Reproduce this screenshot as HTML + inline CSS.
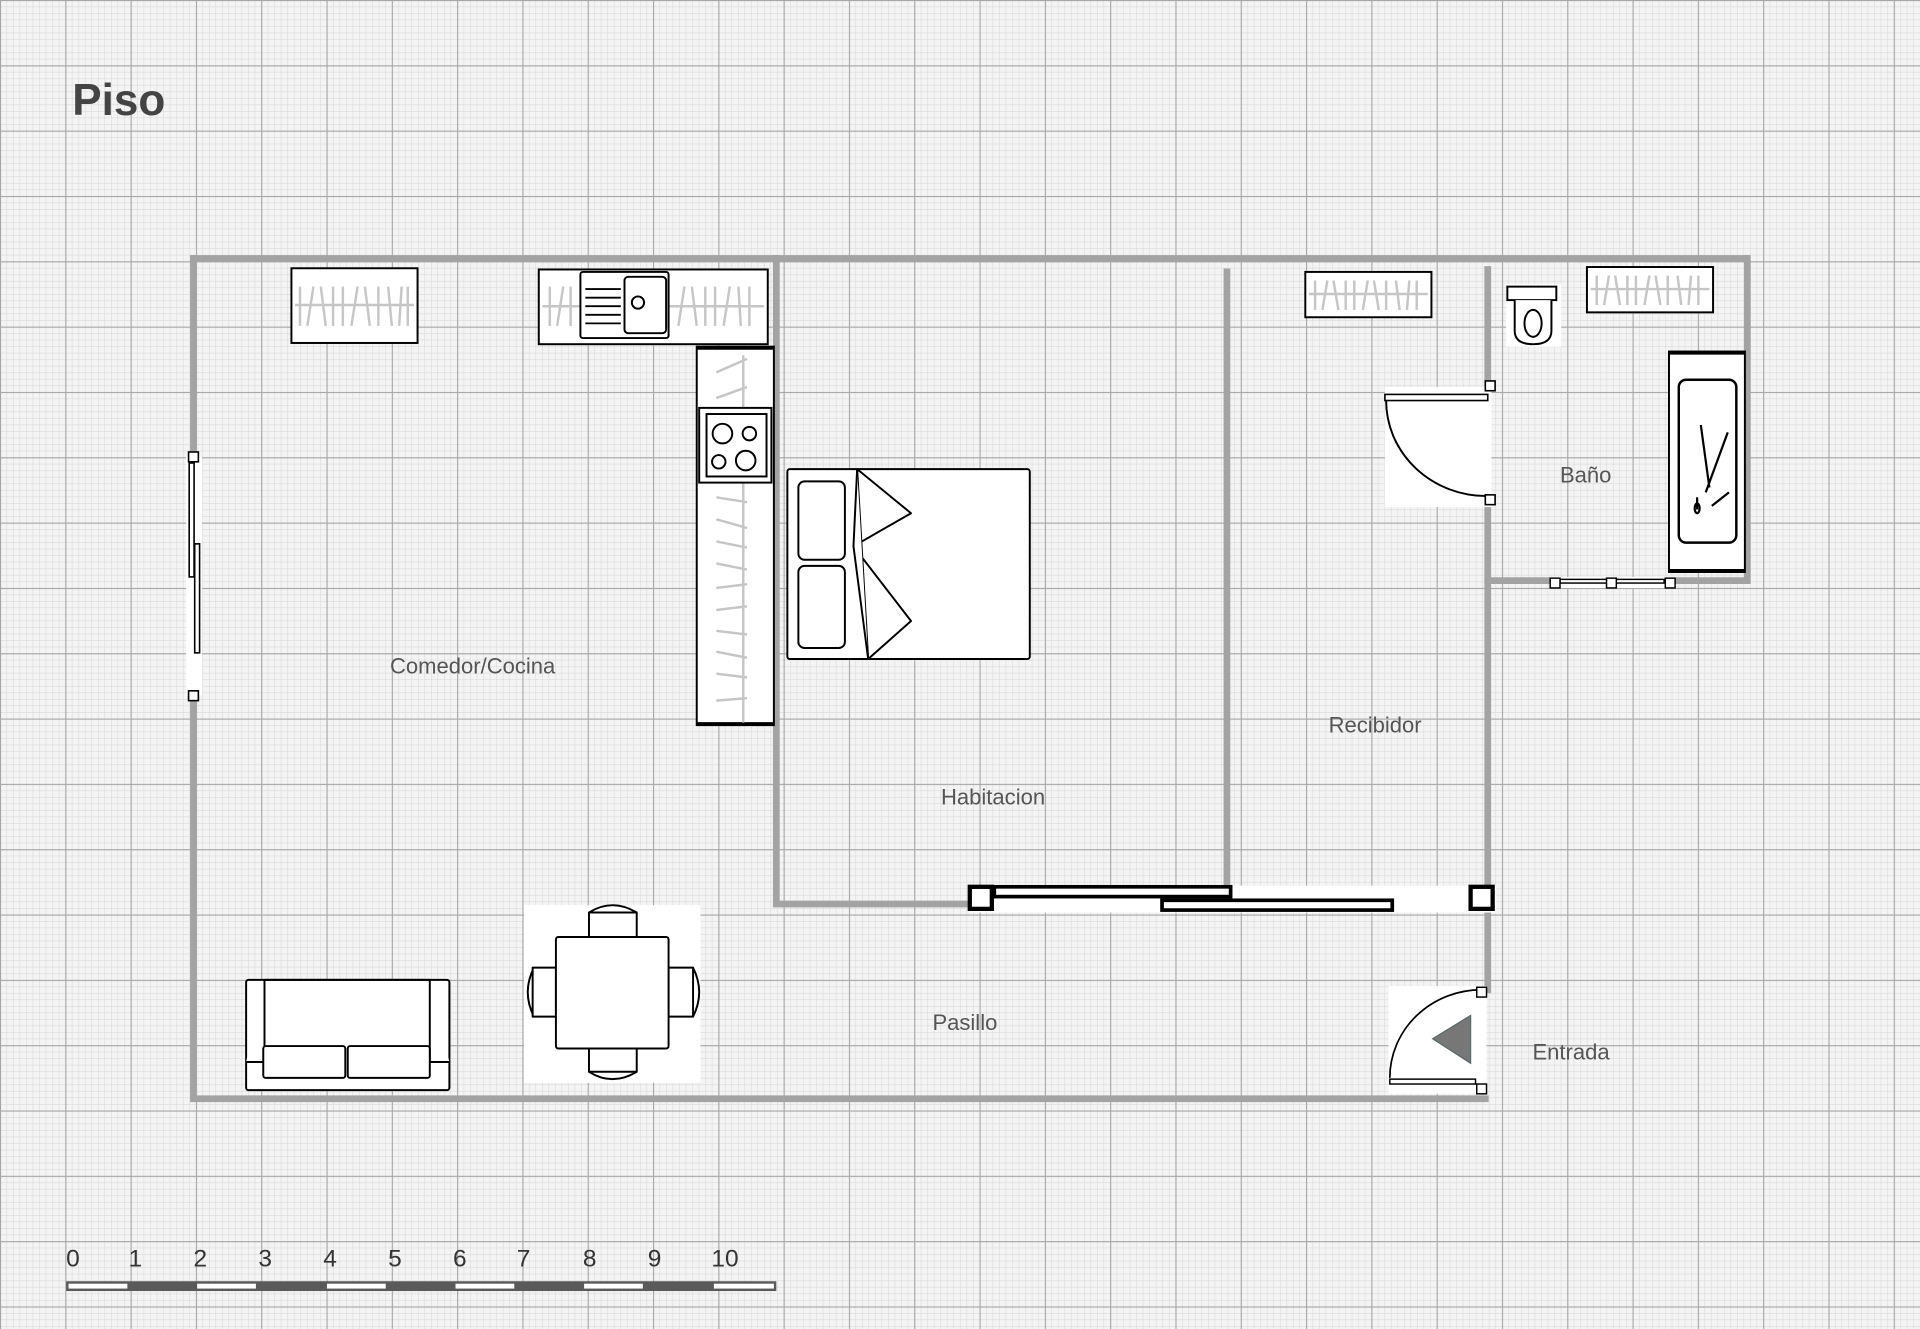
<!DOCTYPE html>
<html><head><meta charset="utf-8"><style>
html,body{margin:0;padding:0;background:#f0f0f0;}
svg{display:block;}
text{font-family:"Liberation Sans",sans-serif;}
</style></head><body>
<svg width="1920" height="1329" viewBox="0 0 1568 1085" preserveAspectRatio="none" xmlns="http://www.w3.org/2000/svg">
<defs>
<pattern id="minor" width="5.333" height="5.333" patternUnits="userSpaceOnUse">
<rect width="5.333" height="5.333" fill="#f4f4f4"/>
<path d="M0 0H5.333M0 0V5.333" stroke="#d8d8d8" stroke-width="0.9" fill="none"/>
</pattern>
<pattern id="major" width="53.33" height="53.33" patternUnits="userSpaceOnUse">
<path d="M0 0H53.33M0 0V53.33" stroke="#a6a6a6" stroke-width="1.8" fill="none"/>
</pattern>
</defs>
<rect width="1568" height="1085" fill="url(#minor)"/>
<rect width="1568" height="1085" fill="url(#major)"/>

<text x="59" y="94" font-size="36" font-weight="bold" fill="#444">Piso</text>

<!-- walls -->
<g stroke="#a3a3a3" stroke-width="5.5" fill="none" stroke-linecap="square">
<path d="M158 211H1425"/>
<path d="M158 211V373M158 568V897H1213"/>
<path d="M634 211V738H790"/>
<path d="M1002 222V725"/>
<path d="M1215 220V315M1215 408V808"/>
<path d="M1427 211V473M1215 474H1427"/>
</g>

<!-- left window -->
<rect x="152" y="373" width="13" height="195" fill="#fff"/>
<rect x="154.5" y="378" width="4" height="93" fill="#fff" stroke="#000" stroke-width="1.3"/>
<rect x="159" y="444" width="4" height="89" fill="#fff" stroke="#000" stroke-width="1.3"/>
<rect x="154" y="369" width="8" height="8" fill="#fff" stroke="#000" stroke-width="1.3"/>
<rect x="154" y="564" width="8" height="8" fill="#fff" stroke="#000" stroke-width="1.3"/>

<!-- bath window -->
<g stroke="#000" stroke-width="1.2" fill="#fff">
<rect x="1266" y="471" width="102" height="9" stroke="none"/>
<rect x="1274" y="473" width="40" height="3"/>
<rect x="1319" y="473" width="40" height="3"/>
<rect x="1266" y="472" width="8" height="8"/>
<rect x="1312" y="472" width="8" height="8"/>
<rect x="1360" y="472" width="8" height="8"/>
</g>

<!-- closets -->
<g stroke="#000" stroke-width="1.6" fill="#fff">
<rect x="238" y="219" width="103" height="61"/>
<rect x="1066" y="222" width="103" height="37"/>
<rect x="1296" y="218" width="103" height="37"/>
<rect x="440" y="220" width="187" height="61"/>
</g>
<g stroke="#c6c6c6" stroke-width="2" fill="none">
<path d="M241 249H338M245 234V266M251 266L256 234M262 234L266 266M272 266V234M280 234V266M287 266L292 234M298 234L302 266M309 266V234M317 234L320 266M326 266L328 234M333 234V266"/>
<path d="M1069 240H1166M1074 229V253M1080 253L1084 229M1089 229L1093 253M1099 253V229M1106 229V253M1113 253L1117 229M1122 229L1126 253M1132 253V229M1140 229L1143 253M1149 253L1151 229M1157 229V253"/>
<path d="M1299 236H1396M1304 225V249M1310 249L1314 225M1319 225L1323 249M1329 249V225M1336 225V249M1343 249L1347 225M1352 225L1356 249M1362 249V225M1370 225L1373 249M1379 249L1381 225M1387 225V249"/>
<path d="M443 250H624M449 234V266M455 266L460 234M466 234V266M554 266L559 234M565 234L569 266M576 266V234M584 234V266M591 266L596 234M603 234L605 266M612 266V234"/>
</g>
<!-- sink -->
<g stroke="#000" stroke-width="1.6" fill="#fff">
<rect x="474" y="222" width="72" height="54" rx="2"/>
<rect x="510" y="226" width="34" height="46" rx="3"/>
<circle cx="521" cy="247" r="5"/>
</g>
<path d="M478 236H507M478 243H507M478 250H507M478 257H507M478 264H507" stroke="#000" stroke-width="1.5"/>

<!-- vertical counter -->
<rect x="569" y="283" width="63" height="309" fill="#fff" stroke="#000" stroke-width="1.6"/>
<path d="M569 284H632M569 591H632" stroke="#000" stroke-width="3"/>
<g stroke="#c6c6c6" stroke-width="2" fill="none">
<path d="M607 290V590"/>
<path d="M585 304L610 293M585 325L610 316M585 406L610 410M585 424L610 431M585 442L610 447M585 460L610 465M585 480L610 477M585 498L610 495M585 515L610 518M585 532L610 537M585 550L610 553M585 572L610 570"/>
</g>
<rect x="571" y="333" width="59" height="61" fill="#fff" stroke="#000" stroke-width="1.6"/>
<rect x="577" y="338" width="49" height="51" fill="#fff" stroke="#000" stroke-width="1.6"/>
<g stroke="#000" stroke-width="1.6" fill="none">
<circle cx="590" cy="354" r="8"/><circle cx="612" cy="354" r="5.5"/>
<circle cx="587" cy="377" r="5.5"/><circle cx="609" cy="376" r="8"/>
</g>

<!-- bed -->
<g stroke="#000" stroke-width="1.6" fill="#fff" stroke-linejoin="round">
<rect x="643" y="383" width="198" height="155" rx="2"/>
<rect x="652" y="393" width="38" height="64" rx="5"/>
<rect x="652" y="462" width="38" height="67" rx="5"/>
<path d="M700 383L744 419L697 446L744 507L709 538Z"/>
<path d="M700 383L697 446L709 538"/>
</g>

<!-- toilet -->
<rect x="1230" y="232" width="45" height="51" fill="#fff"/>
<g stroke="#000" stroke-width="1.6" fill="#fff">
<rect x="1231" y="234" width="40" height="11"/>
<path d="M1237 245V270Q1237 281 1252 281Q1267 281 1267 270V245"/>
<ellipse cx="1252" cy="264" rx="7" ry="11"/>
</g>

<!-- bathtub -->
<rect x="1363" y="287" width="62" height="180" fill="#fff" stroke="#000" stroke-width="1.6"/>
<path d="M1363 288H1425M1363 466H1425" stroke="#000" stroke-width="3"/>
<rect x="1371" y="310" width="47" height="133" rx="6" fill="#fff" stroke="#000" stroke-width="2"/>
<g stroke="#000" stroke-width="1.8" fill="none">
<path d="M1396 398L1389 347M1393 402L1411 353M1398 413L1412 402M1386 416V406"/>
<ellipse cx="1386" cy="415" rx="2" ry="4"/>
</g>

<!-- bath door -->
<rect x="1131" y="316" width="87" height="98" fill="#fff"/>
<rect x="1131" y="322" width="84" height="5" fill="#fff" stroke="#000" stroke-width="1.3"/>
<path d="M1132 327A82 78 0 0 0 1214 405" fill="none" stroke="#000" stroke-width="1.6"/>
<rect x="1213" y="311" width="8" height="8" fill="#fff" stroke="#000" stroke-width="1.3"/>
<rect x="1213" y="404" width="8" height="8" fill="#fff" stroke="#000" stroke-width="1.3"/>

<!-- sliding door -->
<rect x="792" y="723" width="430" height="22" fill="#fff"/>
<g stroke="#000" fill="#fff">
<rect x="812" y="724" width="193" height="8" stroke-width="3"/>
<rect x="949" y="735" width="188" height="8" stroke-width="3"/>
<rect x="792" y="724" width="18" height="18" stroke-width="3.5"/>
<rect x="1201" y="724" width="18" height="18" stroke-width="3.5"/>
</g>

<!-- entrance door -->
<rect x="1134" y="805" width="80" height="88" fill="#fff"/>
<rect x="1135" y="881" width="70" height="4" fill="#fff" stroke="#000" stroke-width="1.2"/>
<path d="M1135 880A75 72 0 0 1 1210 808" fill="none" stroke="#000" stroke-width="1.4"/>
<path d="M1201 829L1201 868L1170 848Z" fill="#777" stroke="#5a6a6a" stroke-width="1"/>
<rect x="1206" y="806" width="8" height="8" fill="#fff" stroke="#000" stroke-width="1.2"/>
<rect x="1206" y="885" width="8" height="8" fill="#fff" stroke="#000" stroke-width="1.2"/>

<!-- sofa -->
<g stroke="#000" stroke-width="1.6" fill="#fff" stroke-linejoin="round">
<rect x="201" y="800" width="166" height="90" rx="2"/>
<path d="M201 867H216V800M367 867H351V800M216 800H351"/>
<rect x="215" y="854" width="67" height="26" rx="2"/>
<rect x="284" y="854" width="67" height="26" rx="2"/>
</g>

<!-- table -->
<rect x="428" y="739" width="144" height="145" fill="#fff"/>
<g stroke="#000" stroke-width="1.6" fill="#fff" stroke-linejoin="round">
<path d="M481 745Q500 733 520 745"/><rect x="481" y="745" width="39" height="20"/>
<path d="M481 875Q500 887 520 875"/><rect x="481" y="856" width="39" height="19"/>
<path d="M436 790Q426 810 436 830"/><rect x="435" y="790" width="19" height="40"/>
<path d="M566 790Q576 810 566 830"/><rect x="546" y="790" width="20" height="40"/>
<rect x="454" y="765" width="92" height="91" rx="2"/>
</g>

<!-- labels -->
<g font-size="18" fill="#555" text-anchor="middle">
<text x="386" y="550">Comedor/Cocina</text>
<text x="811" y="657">Habitacion</text>
<text x="1123" y="598">Recibidor</text>
<text x="1295" y="394">Baño</text>
<text x="788" y="841">Pasillo</text>
<text x="1283" y="865">Entrada</text>
</g>

<!-- scale -->
<rect x="54" y="1046" width="580" height="8" fill="#5a5a5a"/>
<g fill="#fff">
<rect x="56" y="1048" width="48" height="4"/>
<rect x="161" y="1048" width="48" height="4"/>
<rect x="267" y="1048" width="48" height="4"/>
<rect x="372" y="1048" width="48" height="4"/>
<rect x="477" y="1048" width="48" height="4"/>
<rect x="583" y="1048" width="49" height="4"/>
</g>
<g font-size="20" fill="#333">
<text x="54" y="1034">0</text><text x="105" y="1034">1</text><text x="158" y="1034">2</text>
<text x="211" y="1034">3</text><text x="264" y="1034">4</text><text x="317" y="1034">5</text>
<text x="370" y="1034">6</text><text x="422" y="1034">7</text><text x="476" y="1034">8</text>
<text x="529" y="1034">9</text><text x="581" y="1034">10</text>
</g>
</svg>
</body></html>
